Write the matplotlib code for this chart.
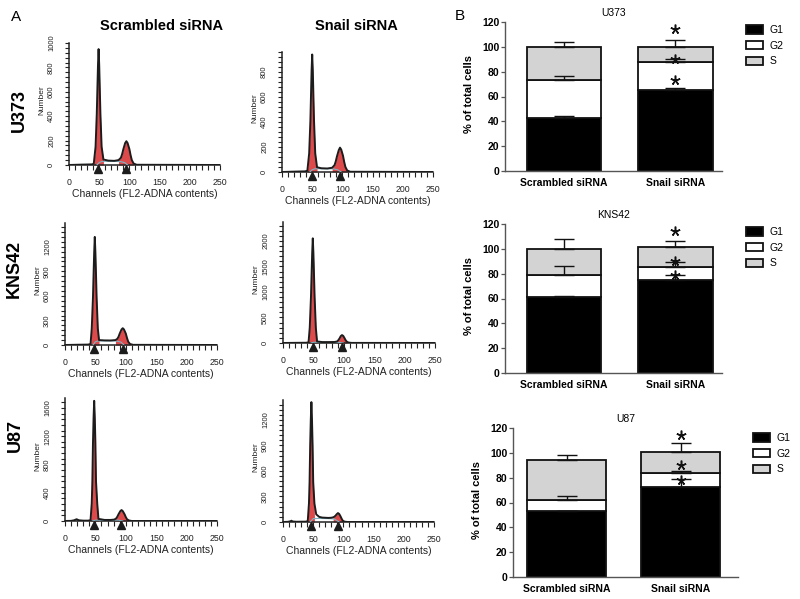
import matplotlib
matplotlib.use('Agg')
import matplotlib.pyplot as plt
import numpy as np
from matplotlib.ticker import MultipleLocator

plt.rcParams['font.family'] = ['Liberation Sans', 'DejaVu Sans']

# ---------------- Panel A data (flow cytometry histograms) ----------------
ch_u373_scr = [0, 20, 38, 41, 44, 46, 47, 48, 49, 50, 51, 52, 54, 57, 65, 75, 82, 86, 88, 90, 93, 95, 97, 100, 102, 104, 107, 112, 250]
cnt_u373_scr = [0, 3, 5, 10, 150, 420, 620, 820, 950, 820, 620, 420, 150, 45, 36, 34, 40, 60, 90, 130, 180, 195, 180, 130, 80, 40, 12, 2, 0]
sch_u373_scr = [46, 50, 55, 65, 75, 85, 92, 97]
scnt_u373_scr = [0, 20, 30, 30, 30, 28, 20, 0]
tri_u373_scr = [48, 94]

ch_u373_sn = [0, 20, 38, 42, 45, 47, 48, 49, 50, 51, 52, 53, 55, 58, 65, 75, 83, 87, 89, 91, 94, 96, 98, 101, 103, 105, 108, 113, 250]
cnt_u373_sn = [0, 3, 5, 10, 150, 410, 610, 810, 940, 810, 610, 410, 150, 38, 30, 28, 34, 55, 85, 125, 175, 195, 180, 130, 80, 40, 12, 2, 0]
sch_u373_sn = [46, 50, 55, 65, 75, 85, 92, 98]
scnt_u373_sn = [0, 18, 26, 26, 26, 25, 18, 0]
tri_u373_sn = [49, 96]

ch_kns_scr = [0, 20, 38, 42, 44, 46, 47, 48, 49, 50, 51, 52, 54, 56, 65, 75, 83, 86, 88, 90, 93, 95, 97, 100, 102, 104, 107, 112, 250]
cnt_kns_scr = [0, 3, 5, 12, 200, 580, 860, 1130, 1320, 1130, 860, 580, 200, 60, 56, 55, 60, 75, 100, 140, 190, 205, 190, 140, 85, 40, 12, 2, 0]
sch_kns_scr = [46, 50, 55, 65, 75, 85, 92, 97]
scnt_kns_scr = [0, 40, 50, 50, 50, 48, 35, 0]
tri_kns_scr = [48, 95]

ch_kns_sn = [0, 20, 38, 42, 44, 46, 47, 48, 49, 50, 51, 52, 54, 56, 65, 75, 85, 89, 91, 93, 95, 97, 99, 101, 103, 105, 108, 113, 250]
cnt_kns_sn = [0, 3, 5, 12, 300, 900, 1330, 1760, 2050, 1760, 1330, 900, 300, 30, 18, 18, 20, 30, 55, 90, 135, 155, 140, 100, 55, 25, 8, 2, 0]
sch_kns_sn = [46, 50, 60, 75, 90, 99]
scnt_kns_sn = [0, 14, 15, 15, 14, 0]
tri_kns_sn = [49, 97]

ch_u87_scr = [0, 10, 15, 19, 23, 30, 38, 42, 44, 45, 46, 47, 48, 49, 50, 51, 53, 55, 65, 75, 81, 84, 86, 88, 91, 93, 95, 98, 100, 102, 105, 110, 250]
cnt_u87_scr = [0, 2, 10, 25, 10, 5, 5, 12, 250, 560, 1100, 1460, 1700, 1460, 1100, 560, 250, 30, 15, 15, 20, 35, 60, 95, 140, 155, 140, 95, 55, 25, 8, 0, 0]
sch_u87_scr = [45, 50, 60, 75, 88, 95]
scnt_u87_scr = [0, 12, 13, 13, 12, 0]
tri_u87_scr = [48, 92]

ch_u87_sn = [0, 8, 12, 14, 16, 22, 38, 41, 43, 44, 45, 46, 47, 48, 49, 50, 52, 55, 60, 65, 75, 80, 83, 85, 87, 89, 91, 93, 95, 97, 99, 102, 107, 250]
cnt_u87_sn = [0, 2, 8, 15, 6, 3, 4, 12, 220, 470, 900, 1200, 1410, 1200, 900, 470, 220, 90, 60, 52, 48, 50, 55, 62, 75, 92, 105, 95, 70, 40, 15, 4, 0, 0]
sch_u87_sn = [45, 50, 60, 75, 85, 93]
scnt_u87_sn = [0, 40, 42, 40, 35, 0]
tri_u87_sn = [47, 91]

hist_xticks = [0, 50, 100, 150, 200, 250]

# ---------------- Panel B data (stacked bars, % of total cells) ----------------
groups = ['Scrambled siRNA', 'Snail siRNA']
phases = ['G1', 'G2', 'S']

u373_g1 = [43.0, 65.0]
u373_g2 = [30.0, 22.5]
u373_s = [27.0, 12.5]
u373_err_g1 = [1.0, 1.6]
u373_err_g2 = [3.2, 3.0]
u373_err_s = [4.1, 5.2]
u373_stars = [114, 90, 73]

kns_g1 = [61.5, 75.0]
kns_g2 = [17.3, 10.5]
kns_s = [21.2, 16.0]
kns_err_g1 = [0.4, 4.0]
kns_err_g2 = [7.5, 3.5]
kns_err_s = [7.8, 5.0]
kns_stars = [114, 90, 79]

u87_g1 = [53.5, 72.8]
u87_g2 = [8.5, 11.0]
u87_s = [32.5, 16.5]
u87_err_g1 = [0.0, 6.0]
u87_err_g2 = [3.5, 1.3]
u87_err_s = [3.5, 7.7]
u87_stars = [114, 90, 78]

bar_yticks = [0, 20, 40, 60, 80, 100, 120]

# ---------------- Figure ----------------
W, H = 800, 599
fig = plt.figure(figsize=(8, 5.99), dpi=100)


def ax_px(x0, x1, ybot, ytop):
    return fig.add_axes([x0 / W, 1 - ybot / H, (x1 - x0) / W, (ybot - ytop) / H])


def ftext(x, y, s, **kw):
    fig.text(x / W, 1 - y / H, s, **kw)


RED = '#dc4a4c'


def hist_panel(ax, ch, cnt, sch, scnt, tri, ymax, ystep, red_ranges):
    ch = np.asarray(ch, float)
    cnt = np.asarray(cnt, float)
    for lo, hi in red_ranges:
        m = (ch >= lo) & (ch <= hi)
        ax.fill_between(ch[m], 0, cnt[m], color=RED, lw=0, zorder=2)
    ax.plot(sch, scnt, color='#7fb3c2', lw=0.8, zorder=3)
    ax.plot(ch, cnt, color='#1c1c1c', lw=1.4, zorder=4)
    ax.plot(tri, [-0.035] * len(tri), transform=ax.get_xaxis_transform(),
            ls='none', marker='^', ms=5.5, color='#1c1c1c', clip_on=False, zorder=5)
    ax.set_xlim(0, 250)
    ax.set_ylim(0, ymax)
    ax.set_xticks(hist_xticks)
    ax.xaxis.set_minor_locator(MultipleLocator(10))
    ax.yaxis.set_major_locator(MultipleLocator(ystep))
    ax.yaxis.set_minor_locator(MultipleLocator(ystep / 5))
    for s in ['top', 'right']:
        ax.spines[s].set_visible(False)
    for s in ['left', 'bottom']:
        ax.spines[s].set_linewidth(1.1)
        ax.spines[s].set_color('#222222')
    ax.tick_params(axis='x', which='both', length=3.5, width=0.8, pad=6,
                   labelsize=6.3, colors='#222222')
    ax.tick_params(axis='y', which='both', length=3, width=0.8, pad=7,
                   labelsize=5.5, labelrotation=90, colors='#222222')
    for lab in ax.get_yticklabels():
        lab.set_va('center')
    ax.set_xlabel('Channels (FL2-ADNA contents)', fontsize=7.5, labelpad=1, color='#222222')
    ax.annotate('Number', xy=(0, 0.53), xycoords='axes fraction', xytext=(-19.5, 0),
                textcoords='offset points', rotation=90, ha='center', va='center',
                fontsize=6, color='#222222')


ax = ax_px(69, 220, 165, 43)
hist_panel(ax, ch_u373_scr, cnt_u373_scr, sch_u373_scr, scnt_u373_scr, tri_u373_scr, 1000, 200, [(41, 57), (82, 107)])
ax = ax_px(282, 433, 172, 52)
hist_panel(ax, ch_u373_sn, cnt_u373_sn, sch_u373_sn, scnt_u373_sn, tri_u373_sn, 960, 200, [(42, 58), (83, 108)])
ax = ax_px(65, 217, 345, 223)
hist_panel(ax, ch_kns_scr, cnt_kns_scr, sch_kns_scr, scnt_kns_scr, tri_kns_scr, 1490, 300, [(42, 56), (83, 107)])
ax = ax_px(283, 435, 343, 222)
hist_panel(ax, ch_kns_sn, cnt_kns_sn, sch_kns_sn, scnt_kns_sn, tri_kns_sn, 2370, 500, [(42, 56), (89, 105)])
ax = ax_px(65, 217, 521, 398)
hist_panel(ax, ch_u87_scr, cnt_u87_scr, sch_u87_scr, scnt_u87_scr, tri_u87_scr, 1740, 400, [(42, 55), (81, 105)])
ax = ax_px(283, 434, 522, 400)
hist_panel(ax, ch_u87_sn, cnt_u87_sn, sch_u87_sn, scnt_u87_sn, tri_u87_sn, 1435, 300, [(41, 53), (83, 101)])

# Column / row headings
ftext(16, 17, 'A', fontsize=11, ha='center', va='center')
ftext(460, 16, 'B', fontsize=11, ha='center', va='center')
ftext(162, 26, 'Scrambled siRNA', fontsize=10.5, fontweight='bold', ha='center', va='center')
ftext(356, 26, 'Snail siRNA', fontsize=10.5, fontweight='bold', ha='center', va='center')
ftext(19, 111, 'U373', fontsize=13, fontweight='bold', rotation=90, ha='center', va='center')
ftext(14, 269, 'KNS42', fontsize=13, fontweight='bold', rotation=90, ha='center', va='center')
ftext(15, 435, 'U87', fontsize=13, fontweight='bold', rotation=90, ha='center', va='center')

# ---------------- Panel B ----------------
GRAY = '#d3d3d3'


def bar_panel(ax, g1, g2, s, e1, e2, es, stars, title, xlim, width, leg_xy):
    x = np.arange(len(groups))
    g1 = np.asarray(g1); g2 = np.asarray(g2); s = np.asarray(s)
    kw = dict(width=width, edgecolor='#111111', linewidth=1.3, zorder=2)
    b1 = ax.bar(x, g1, color='black', label=phases[0], **kw)
    b2 = ax.bar(x, g2, bottom=g1, color='white', label=phases[1], **kw)
    b3 = ax.bar(x, s, bottom=g1 + g2, color=GRAY, label=phases[2], **kw)
    zero = np.zeros(len(x))
    ekw = dict(fmt='none', ecolor='#111111', elinewidth=1.0, capsize=7, capthick=1.0, zorder=3)
    ax.errorbar(x, g1, yerr=[zero, e1], **ekw)
    ax.errorbar(x, g1 + g2, yerr=[zero, e2], **ekw)
    ax.errorbar(x, g1 + g2 + s, yerr=[zero, es], **ekw)
    ax.plot([1] * len(stars), stars, ls='none', marker=(5, 2, 0), ms=7, mew=1.1,
            color='#111111', zorder=4)
    ax.set_xlim(*xlim)
    ax.set_ylim(0, 120)
    ax.set_yticks(bar_yticks)
    ax.set_xticks(x)
    ax.set_xticklabels(groups, fontweight='bold', fontsize=7.5)
    for sp in ['top', 'right']:
        ax.spines[sp].set_visible(False)
    for sp in ['left', 'bottom']:
        ax.spines[sp].set_linewidth(1.0)
        ax.spines[sp].set_color('#555555')
    ax.tick_params(axis='x', length=0, pad=5)
    ax.tick_params(axis='y', length=3, width=0.9, pad=1, labelsize=7.5, color='#555555')
    for lab in ax.get_yticklabels():
        lab.set_fontweight('bold')
    ax.set_title(title, fontsize=7.5, pad=4)
    ax.legend(handles=[b1, b2, b3], loc='upper left',
              bbox_to_anchor=(leg_xy[0] / W, 1 - leg_xy[1] / H),
              bbox_transform=fig.transFigure, frameon=False, fontsize=7.5,
              handlelength=1.6, handleheight=0.85, labelspacing=0.55,
              handletextpad=0.7, borderpad=0, borderaxespad=0)


ax = ax_px(505, 722, 171, 22)
bar_panel(ax, u373_g1, u373_g2, u373_s, u373_err_g1, u373_err_g2, u373_err_s,
          u373_stars, 'U373', (-0.53, 1.42), 0.67, (746, 25))
ftext(469, 94, '% of total cells', fontsize=8, fontweight='bold', rotation=90, ha='center', va='center')

ax = ax_px(505, 722, 373, 224)
bar_panel(ax, kns_g1, kns_g2, kns_s, kns_err_g1, kns_err_g2, kns_err_s,
          kns_stars, 'KNS42', (-0.53, 1.42), 0.67, (746, 227))
ftext(469, 296, '% of total cells', fontsize=8, fontweight='bold', rotation=90, ha='center', va='center')

ax = ax_px(513, 738, 577, 428)
bar_panel(ax, u87_g1, u87_g2, u87_s, u87_err_g1, u87_err_g2, u87_err_s,
          u87_stars, 'U87', (-0.47, 1.5), 0.69, (753, 433))
ftext(477, 500, '% of total cells', fontsize=8, fontweight='bold', rotation=90, ha='center', va='center')

fig.savefig('out.png', dpi=100)
